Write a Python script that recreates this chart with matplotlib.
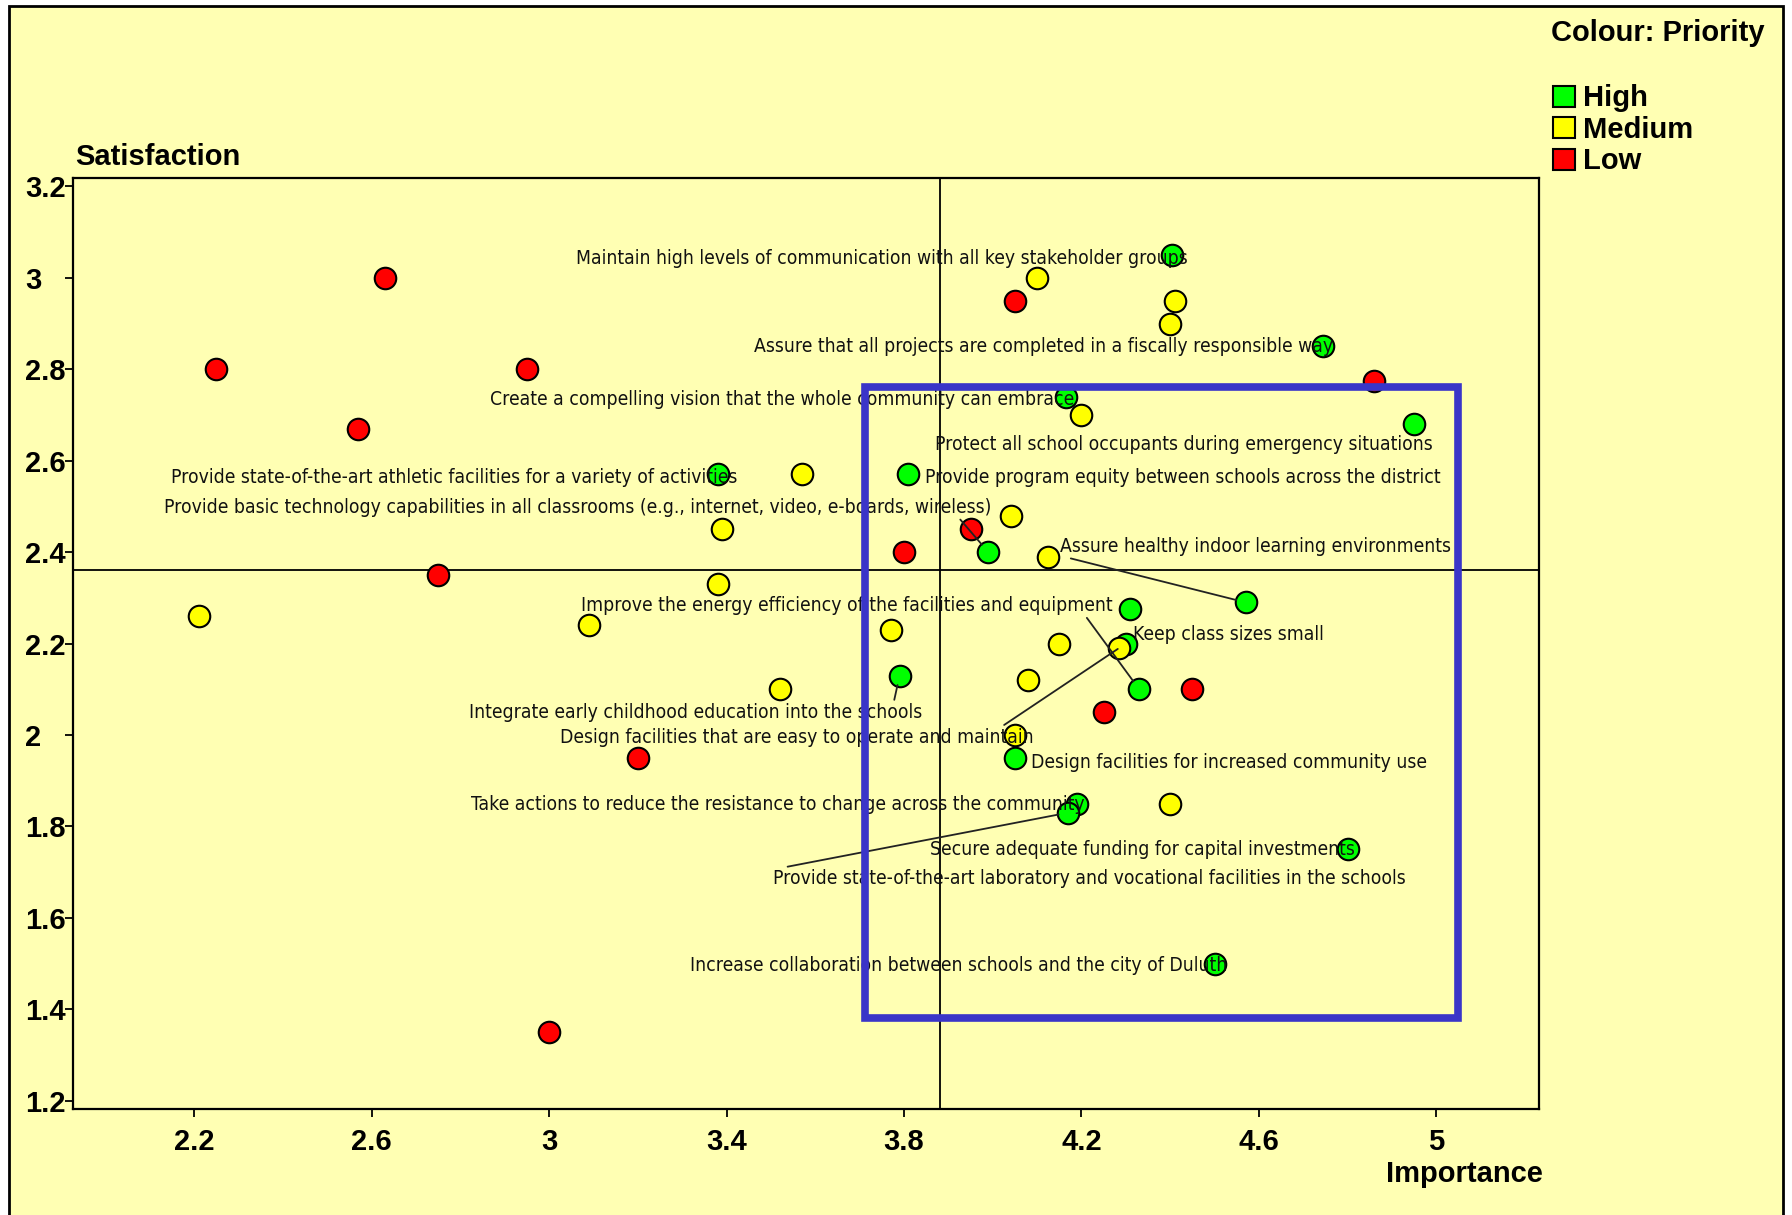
import matplotlib
matplotlib.use('Agg')
import matplotlib.pyplot as plt
from matplotlib import font_manager
from matplotlib.font_manager import FontProperties
from matplotlib.patches import Patch, Rectangle


BG = '#FFFFB3'
COLOURS = {'High': '#00FF00', 'Medium': '#FFFF00', 'Low': '#FF0000'}

# High priority items (these carry the labels)
high_imp = [4.405, 4.745, 4.165, 4.95, 3.38, 3.81, 3.99, 4.57, 4.31, 4.30,
            4.33, 3.79, 4.05, 4.19, 4.17, 4.80, 4.50]
high_sat = [3.05, 2.85, 2.74, 2.68, 2.57, 2.57, 2.40, 2.29, 2.275, 2.20,
            2.10, 2.13, 1.95, 1.85, 1.83, 1.75, 1.50]
high_labels = [
    'Maintain high levels of communication with all key stakeholder groups',
    'Assure that all projects are completed in a fiscally responsible way',
    'Create a compelling vision that the whole community can embrace',
    'Protect all school occupants during emergency situations',
    'Provide state-of-the-art athletic facilities for a variety of activities',
    'Provide program equity between schools across the district',
    'Provide basic technology capabilities in all classrooms (e.g., internet, video, e-boards, wireless)',
    'Assure healthy indoor learning environments',
    'Keep class sizes small',
    'Design facilities that are easy to operate and maintain',
    'Improve the energy efficiency of the facilities and equipment',
    'Integrate early childhood education into the schools',
    'Design facilities for increased community use',
    'Take actions to reduce the resistance to change across the community',
    'Provide state-of-the-art laboratory and vocational facilities in the schools',
    'Secure adequate funding for capital investments',
    'Increase collaboration between schools and the city of Duluth',
]

med_imp = [2.21, 3.09, 3.38, 3.39, 3.57, 3.52, 3.77, 4.10, 4.41, 4.40, 4.20,
           4.04, 4.125, 4.15, 4.08, 4.285, 4.05, 4.40]
med_sat = [2.26, 2.24, 2.33, 2.45, 2.57, 2.10, 2.23, 3.00, 2.95, 2.90, 2.70,
           2.48, 2.39, 2.20, 2.12, 2.19, 2.00, 1.85]

low_imp = [2.63, 2.25, 2.95, 2.57, 2.75, 3.20, 3.00, 4.05, 4.86, 3.95, 3.80,
           4.25, 4.45]
low_sat = [3.00, 2.80, 2.80, 2.67, 2.35, 1.95, 1.35, 2.95, 2.775, 2.45, 2.40,
           2.05, 2.10]

imp_mean = 3.88
sat_mean = 2.36
focus_box = (3.712, 1.38, 5.049, 2.762)

xticks = [2.2, 2.6, 3.0, 3.4, 3.8, 4.2, 4.6, 5.0]
xticklabels = ['2.2', '2.6', '3', '3.4', '3.8', '4.2', '4.6', '5']
yticks = [1.2, 1.4, 1.6, 1.8, 2.0, 2.2, 2.4, 2.6, 2.8, 3.0, 3.2]
yticklabels = ['1.2', '1.4', '1.6', '1.8', '2', '2.2', '2.4', '2.6', '2.8', '3', '3.2']

# label placement: (x, y, ha, leader relpos or None)
label_pos = [
    (4.44, 3.042, 'right', None),
    (4.768, 2.85, 'right', None),
    (4.184, 2.733, 'right', None),
    (4.992, 2.635, 'right', None),
    (3.425, 2.563, 'right', None),
    (3.847, 2.563, 'left', None),
    (3.996, 2.498, 'right', (0.96, 0.0)),
    (4.151, 2.413, 'left', (0.0, 0.0)),
    (4.315, 2.22, 'left', None),
    (4.091, 1.995, 'right', (0.93, 1.0)),
    (4.271, 2.283, 'right', (0.947, 0.0)),
    (3.842, 2.05, 'right', (0.936, 1.0)),
    (4.086, 1.94, 'left', None),
    (4.207, 1.848, 'right', None),
    (3.505, 1.685, 'left', (0.0, 1.0)),
    (4.817, 1.75, 'right', None),
    (4.529, 1.495, 'right', None),
]

# narrow label font: prefer a condensed face if one is installed
names = {f.name for f in font_manager.fontManager.ttflist}
if 'Liberation Sans Narrow' in names:
    LABEL_FONT = FontProperties(family='Liberation Sans Narrow', size=14.8)
else:
    cond = FontProperties(family='DejaVu Sans', stretch='condensed')
    if 'Condensed' in font_manager.findfont(cond):
        LABEL_FONT = FontProperties(family='DejaVu Sans', stretch='condensed', size=13.9)
    else:
        LABEL_FONT = FontProperties(family='Liberation Sans', size=13.4)

BOLD = 'Liberation Sans'
BSIZE = 21

fig = plt.figure(figsize=(17.92, 12.15), dpi=100, facecolor='white')
fig.patches.append(Rectangle((0.005, -0.05), 0.99, 1.0453, transform=fig.transFigure,
                             facecolor=BG, edgecolor='black', linewidth=2.0, zorder=-10))

ax = fig.add_axes([0.0408, 0.0875, 0.8182, 0.7657])
ax.set_facecolor('none')
ax.set_xlim(1.927, 5.232)
ax.set_ylim(1.1825, 3.2175)

for s in ax.spines.values():
    s.set_linewidth(1.6)

ax.set_xticks(xticks)
ax.set_xticklabels(xticklabels, fontfamily=BOLD, fontweight='bold', fontsize=BSIZE)
ax.set_yticks(yticks)
ax.set_yticklabels(yticklabels, fontfamily=BOLD, fontweight='bold', fontsize=BSIZE, ha='left')
ax.tick_params(axis='x', direction='out', length=6, width=1.3, pad=8)
ax.tick_params(axis='y', direction='out', length=6, width=1.3, pad=28.5)

ax.axvline(imp_mean, color='black', lw=1.3, zorder=1)
ax.axhline(sat_mean, color='black', lw=1.3, zorder=1)

ax.scatter(high_imp, high_sat, s=240, c=COLOURS['High'], edgecolors='black', linewidths=1.5, zorder=3)
ax.scatter(med_imp, med_sat, s=240, c=COLOURS['Medium'], edgecolors='black', linewidths=1.5, zorder=3)
ax.scatter(low_imp, low_sat, s=240, c=COLOURS['Low'], edgecolors='black', linewidths=1.5, zorder=3)

for i, txt in enumerate(high_labels):
    tx, ty, ha, rel = label_pos[i]
    if rel is None:
        ax.text(tx, ty, txt, ha=ha, va='center', fontproperties=LABEL_FONT,
                color='#111111', zorder=4)
    else:
        ax.annotate(txt, xy=(high_imp[i], high_sat[i]), xytext=(tx, ty),
                    ha=ha, va='center', fontproperties=LABEL_FONT,
                    color='#111111', zorder=4,
                    arrowprops=dict(arrowstyle='-', color='#222222', lw=1.3,
                                    relpos=rel, shrinkA=0, shrinkB=7))

x0, y0, x1, y1 = focus_box
ax.add_patch(Rectangle((x0, y0), x1 - x0, y1 - y0, fill=False,
                       edgecolor='#3A35C8', linewidth=5.5, zorder=6))

fig.text(0.042, 0.871, 'Satisfaction', ha='left', va='center',
         fontfamily=BOLD, fontweight='bold', fontsize=BSIZE)
fig.text(0.861, 0.034, 'Importance', ha='right', va='center',
         fontfamily=BOLD, fontweight='bold', fontsize=BSIZE)
fig.text(0.985, 0.973, 'Colour: Priority', ha='right', va='center',
         fontfamily=BOLD, fontweight='bold', fontsize=BSIZE)

handles = [Patch(facecolor=COLOURS[k], edgecolor='black', linewidth=1.5, label=k)
           for k in ['High', 'Medium', 'Low']]
fig.legend(handles=handles, loc='upper left', bbox_to_anchor=(0.8665, 0.9305),
           frameon=False, handlelength=0.75, handleheight=0.75, handletextpad=0.3,
           labelspacing=0.12, borderpad=0, borderaxespad=0,
           prop={'family': BOLD, 'weight': 'bold', 'size': BSIZE})

fig.savefig('out.png', dpi=100, facecolor='white')
